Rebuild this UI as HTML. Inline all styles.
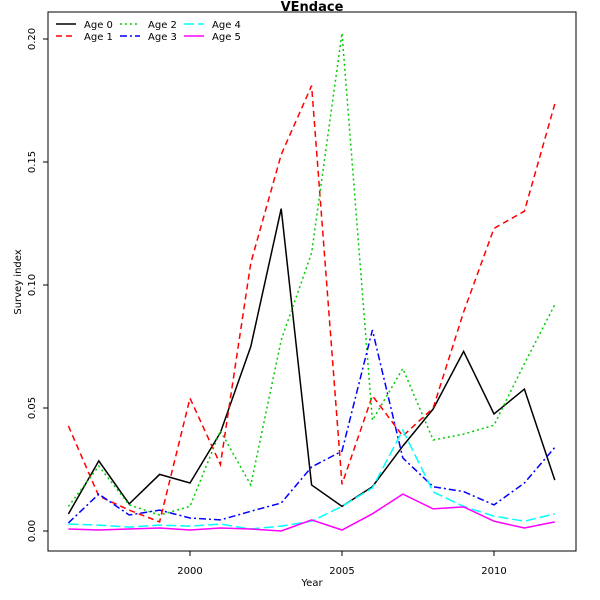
<!DOCTYPE html>
<html><head><meta charset="utf-8"><style>
html,body{margin:0;padding:0;background:#fff;}
svg{display:block;font-family:"DejaVu Sans","Liberation Sans",sans-serif;}
</style></head><body>
<svg id="chart" width="600" height="600" viewBox="0 0 600 600"></svg>
<script>
const years=[1996,1997,1998,1999,2000,2001,2002,2003,2004,2005,2006,2007,2008,2009,2010,2011,2012];
const seriesNames=["Age 0","Age 1","Age 2","Age 3","Age 4","Age 5"];
const age0=[.0069,.0285,.011,.023,.0195,.040,.075,.131,.0187,.010,.018,.0345,.0496,.073,.0476,.0577,.0207];
const age1=[.0427,.0142,.0085,.0037,.054,.027,.109,.153,.181,.019,.055,.0386,.050,.089,.123,.130,.1736];
const age2=[.010,.0264,.0106,.0065,.010,.0407,.0187,.0776,.113,.2024,.045,.066,.037,.0394,.043,.068,.092];
const age3=[.0033,.015,.0065,.0085,.0053,.0045,.008,.0114,.026,.0325,.0817,.0297,.018,.016,.0106,.0195,.034];
const age4=[.0028,.0024,.0016,.0024,.002,.0028,.0008,.002,.004,.010,.0175,.041,.0159,.010,.006,.004,.007];
const age5=[.0008,.0004,.0008,.0012,.0004,.0012,.0008,0,.0045,.0004,.007,.015,.009,.0098,.004,.0012,.0037];
const xTicks=[2000,2005,2010];
const yTicks=[0,0.05,0.10,0.15,0.20];
const yTickLabels=["0.00","0.05","0.10","0.15","0.20"];

const NS="http://www.w3.org/2000/svg";
const svg=document.getElementById('chart');
const X=v=>190+(v-2000)*30.4;
const Y=v=>531-v*2460;
function mk(t,a,p){const e=document.createElementNS(NS,t);for(const k in a)e.setAttribute(k,a[k]);(p||svg).appendChild(e);return e;}
const styles=[
 {c:"#000",d:""},{c:"#ff0000",d:"6,4"},{c:"#00cd00",d:"2,3"},
 {c:"#0000ff",d:"7,3,2,3"},{c:"#00ffff",d:"10,4"},{c:"#ff00ff",d:""}];
const all=[age0,age1,age2,age3,age4,age5];

let box=mk('rect',{x:48,y:12,width:528,height:539,fill:'none',stroke:'#000','stroke-width':1});



let xa=mk('g',{});


xTicks.forEach(t=>{
 mk('line',{x1:X(t),x2:X(t),y1:551,y2:556,stroke:'#000'},xa);
 let tx=mk('text',{x:X(t),y:574,'font-size':10,'text-anchor':'middle'},xa);tx.textContent=t;
});
let ya=mk('g',{});


yTicks.forEach((t,i)=>{
 mk('line',{x1:43,x2:48,y1:Y(t),y2:Y(t),stroke:'#000'},ya);
 let tx=mk('text',{x:35,y:Y(t),'font-size':10,'text-anchor':'middle',transform:`rotate(-90 35 ${Y(t)})`},ya);tx.textContent=yTickLabels[i];
});
let xt=mk('text',{x:312,y:586,'font-size':10,'text-anchor':'middle'});xt.textContent="Year";


let yt=mk('text',{x:21,y:282,'font-size':10,'text-anchor':'middle',transform:'rotate(-90 21 282)'});yt.textContent="Survey index";


let ti=mk('text',{x:312,y:11,'font-size':13,'font-weight':'bold','text-anchor':'middle'});ti.textContent="VEndace";



all.forEach((s,i)=>{
 const pts=s.map((v,j)=>X(years[j]).toFixed(1)+','+Y(v).toFixed(1)).join(' ');
 let pl=mk('polyline',{points:pts,fill:'none',stroke:styles[i].c,'stroke-width':1.5,'stroke-dasharray':styles[i].d});
 
 
});

const lx=[56,120,184];
seriesNames.forEach((n,i)=>{
 const col=Math.floor(i/2),row=i%2;
 const x=lx[col],y=24+row*12;
 let g=mk('g',{});
 
 
 mk('line',{x1:x,x2:x+20,y1:y,y2:y,stroke:styles[i].c,'stroke-width':1.5,'stroke-dasharray':styles[i].d},g);
 let t=mk('text',{x:x+28,y:y+4,'font-size':10},g);t.textContent=n;
});
</script>
</body></html>
